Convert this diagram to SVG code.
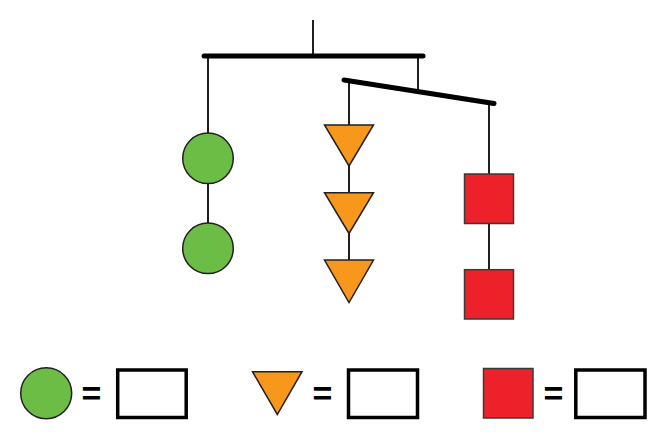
<svg xmlns="http://www.w3.org/2000/svg" width="666" height="439" viewBox="0 0 666 439">
<style>
.bar{stroke:#000;stroke-width:5;stroke-linecap:round;fill:none}
.str{stroke:#231f20;stroke-width:2;fill:none}
.circ{fill:#6cbd45;stroke:#231f20;stroke-width:1.5}
.tri{fill:#f7981d;stroke:#231f20;stroke-width:1.5;stroke-linejoin:miter}
.sq{fill:#ed2129;stroke:#3a3a3a;stroke-width:1.5}
.box{fill:#fff;stroke:#000;stroke-width:3.5}
.eq{font-family:"Liberation Sans",Arial,sans-serif;font-weight:bold;font-size:34px;fill:#000}
</style>
<rect width="666" height="439" fill="#fff"/>
<g id="connectors">
<line class="str" x1="313" y1="20" x2="313" y2="56"/>
<line class="str" x1="208" y1="56" x2="208" y2="133"/>
<line class="str" x1="208" y1="183" x2="208" y2="223"/>
<line class="str" x1="418" y1="56" x2="418" y2="90"/>
<line class="str" x1="349" y1="82" x2="349" y2="125"/>
<line class="str" x1="349" y1="166" x2="349" y2="193"/>
<line class="str" x1="349" y1="233" x2="349" y2="260"/>
<line class="str" x1="489" y1="103" x2="489" y2="174"/>
<line class="str" x1="489" y1="223" x2="489" y2="270"/>
</g>
<g id="bar-top"><line class="bar" x1="204" y1="56" x2="423" y2="56"/></g>
<g id="bar-tilted"><line class="bar" x1="344" y1="80" x2="494" y2="103.5"/></g>
<g id="circle-1"><circle class="circ" cx="208" cy="158.3" r="25.3"/></g>
<g id="circle-2"><circle class="circ" cx="208" cy="248.3" r="25.3"/></g>
<g id="triangle-1"><polygon class="tri" points="324.5,125 373.5,125 349,166"/></g>
<g id="triangle-2"><polygon class="tri" points="324.5,192.7 373.5,192.7 349,233.5"/></g>
<g id="triangle-3"><polygon class="tri" points="324.5,260 373.5,260 349,302.5"/></g>
<g id="square-1"><rect class="sq" x="464.5" y="174" width="49" height="49.5"/></g>
<g id="square-2"><rect class="sq" x="464.5" y="269.7" width="49" height="49.3"/></g>
<g id="legend-circle">
<circle class="circ" cx="46.2" cy="393.2" r="25.5"/>
<text class="eq" x="81.5" y="405">=</text>
<rect class="box" x="117.7" y="370" width="68.5" height="47.5"/>
</g>
<g id="legend-triangle">
<polygon class="tri" points="252.5,371.7 302,371.7 277.3,414.5"/>
<text class="eq" x="312.5" y="405">=</text>
<rect class="box" x="348.5" y="370" width="69" height="47.5"/>
</g>
<g id="legend-square">
<rect class="sq" x="483.5" y="368.5" width="49.5" height="49.5"/>
<text class="eq" x="543.5" y="405">=</text>
<rect class="box" x="575.8" y="370" width="69.2" height="47.5"/>
</g>
</svg>
